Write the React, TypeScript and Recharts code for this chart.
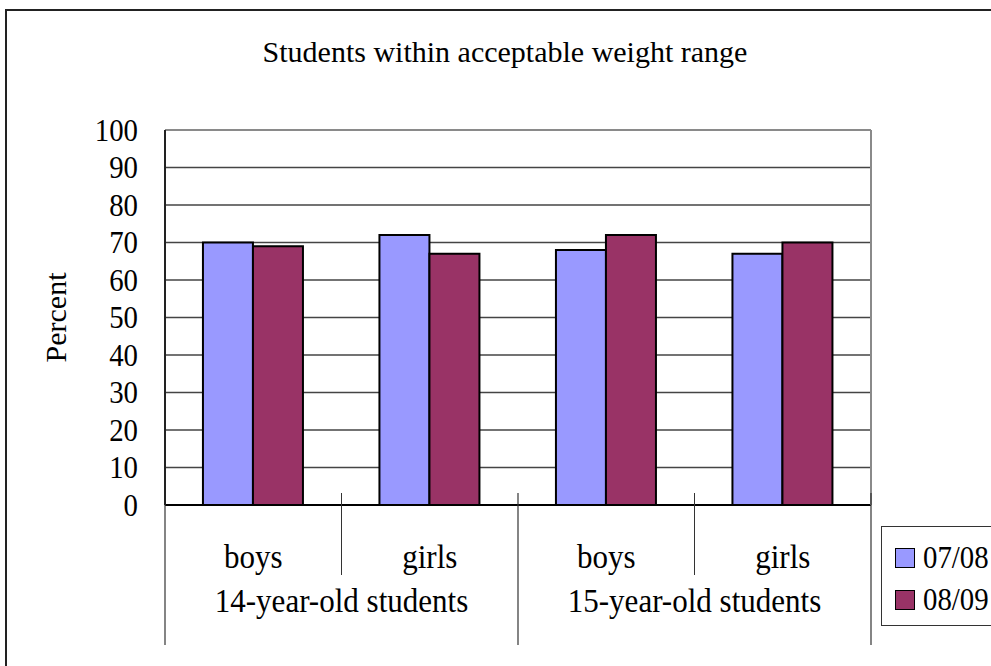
import { BarChart, Bar, XAxis, YAxis, CartesianGrid, ReferenceLine, Legend } from "recharts";

const subCategories = ["boys", "girls", "boys", "girls"];
const groupLabels = ["14-year-old students", "15-year-old students"];
const series0708 = [70, 72, 68, 67];
const series0809 = [69, 67, 72, 70];
const yTicks = [0, 10, 20, 30, 40, 50, 60, 70, 80, 90, 100];

const data = subCategories.map((sub, i) => ({
  sub,
  group: groupLabels[Math.floor(i / 2)],
  "07/08": series0708[i],
  "08/09": series0809[i],
}));

const FONT = "'Liberation Serif', 'Times New Roman', serif";
const BLUE = "#9999FF";
const PLUM = "#993366";

function CategoryTick(props: any) {
  const { x, y, payload } = props;
  const i = payload.index;
  const half = payload.offset && payload.offset > 0 ? payload.offset : 88.25;
  const lineColor = "#333";
  return (
    <g>
      <text
        transform={`translate(${x},${y + 52}) scale(0.94,1)`}
        textAnchor="middle"
        dominantBaseline="central"
        fontFamily={FONT}
        fontSize={33}
        fill="#000"
      >
        {payload.value}
      </text>
      {i % 2 === 0 && (
        <>
          <line x1={x + half} x2={x + half} y1={y - 12} y2={y + 70} stroke={lineColor} strokeWidth={1} />
          <line x1={x - half} x2={x - half} y1={i === 0 ? y : y - 12} y2={y + 140} stroke={lineColor} strokeWidth={1.2} />
          <text
            transform={`translate(${x + half},${y + 96}) scale(0.94,1)`}
            textAnchor="middle"
            dominantBaseline="central"
            fontFamily={FONT}
            fontSize={33}
            fill="#000"
          >
            {data[i].group}
          </text>
        </>
      )}
      {i === data.length - 1 && (
        <line x1={x + half} x2={x + half} y1={y - 12} y2={y + 140} stroke={lineColor} strokeWidth={1.2} />
      )}
    </g>
  );
}

function PercentTick(props: any) {
  const { x, y, payload } = props;
  return (
    <text
      transform={`translate(${x},${y}) scale(0.9,1)`}
      textAnchor="end"
      dominantBaseline="central"
      fontFamily={FONT}
      fontSize={32}
      fill="#000"
    >
      {payload.value}
    </text>
  );
}

function LegendBox() {
  const items = [
    { name: "07/08", color: BLUE },
    { name: "08/09", color: PLUM },
  ];
  return (
    <div style={{ border: "1px solid #333", width: 200, height: 100, boxSizing: "border-box", paddingTop: 10, paddingLeft: 13, background: "#fff" }}>
      {items.map((it) => (
        <div key={it.name} style={{ display: "flex", alignItems: "center", height: 42, fontFamily: FONT, fontSize: 31, color: "#000" }}>
          <span style={{ display: "inline-block", width: 18, height: 18, background: it.color, border: "1.5px solid #000", marginRight: 8 }} />
          <span style={{ display: "inline-block", transform: "scaleX(0.93)", transformOrigin: "left center" }}>{it.name}</span>
        </div>
      ))}
    </div>
  );
}

export default function App() {
  return (
    <div style={{ position: "fixed", left: 0, top: 0, width: 991, height: 666, overflow: "hidden", background: "#fff" }}>
      <div style={{ position: "absolute", left: 5, top: 9, width: 1200, height: 900, border: "2px solid #222" }} />
      <div style={{ position: "absolute", left: 0, top: 34, width: 1010, textAlign: "center", fontFamily: FONT, fontSize: 30, lineHeight: "36px", color: "#000" }}>
        Students within acceptable weight range
      </div>
      <div style={{ position: "absolute", left: 0, top: 0 }}>
        <BarChart
          width={991}
          height={666}
          data={data}
          margin={{ top: 130, right: 119, left: 0, bottom: 0 }}
          barCategoryGap="21.5%"
          barGap={0}
        >
          <CartesianGrid vertical={false} stroke="#444" strokeWidth={1.3} />
          <ReferenceLine y={100} stroke="#8a8a8a" strokeWidth={2} />
          <XAxis
            dataKey="sub"
            height={161}
            axisLine={{ stroke: "#000", strokeWidth: 2 }}
            tickLine={false}
            tickSize={0}
            tickMargin={0}
            interval={0}
            tick={<CategoryTick />}
          />
          <YAxis
            width={165}
            domain={[0, 100]}
            ticks={yTicks}
            interval={0}
            axisLine={{ stroke: "#222", strokeWidth: 2 }}
            tickLine={false}
            tickSize={0}
            tickMargin={27}
            tick={<PercentTick />}
            label={{
              content: ({ viewBox }: any) => (
                <text
                  x={55}
                  y={viewBox.y + viewBox.height / 2}
                  transform={`rotate(-90 55 ${viewBox.y + viewBox.height / 2})`}
                  textAnchor="middle"
                  dominantBaseline="central"
                  fontFamily={FONT}
                  fontSize={30}
                  fill="#000"
                >
                  Percent
                </text>
              ),
            }}
          />
          <YAxis
            yAxisId="frame"
            orientation="right"
            width={1}
            domain={[0, 100]}
            tick={false}
            tickLine={false}
            axisLine={{ stroke: "#8a8a8a", strokeWidth: 2 }}
          />
          <Legend
            layout="vertical"
            align="center"
            verticalAlign="middle"
            wrapperStyle={{ position: "absolute", left: 881, top: 526, width: 200 }}
            content={() => <LegendBox />}
          />
          <Bar dataKey="07/08" fill={BLUE} stroke="#000" strokeWidth={2} isAnimationActive={false} />
          <Bar dataKey="08/09" fill={PLUM} stroke="#000" strokeWidth={2} isAnimationActive={false} />
        </BarChart>
      </div>
    </div>
  );
}
